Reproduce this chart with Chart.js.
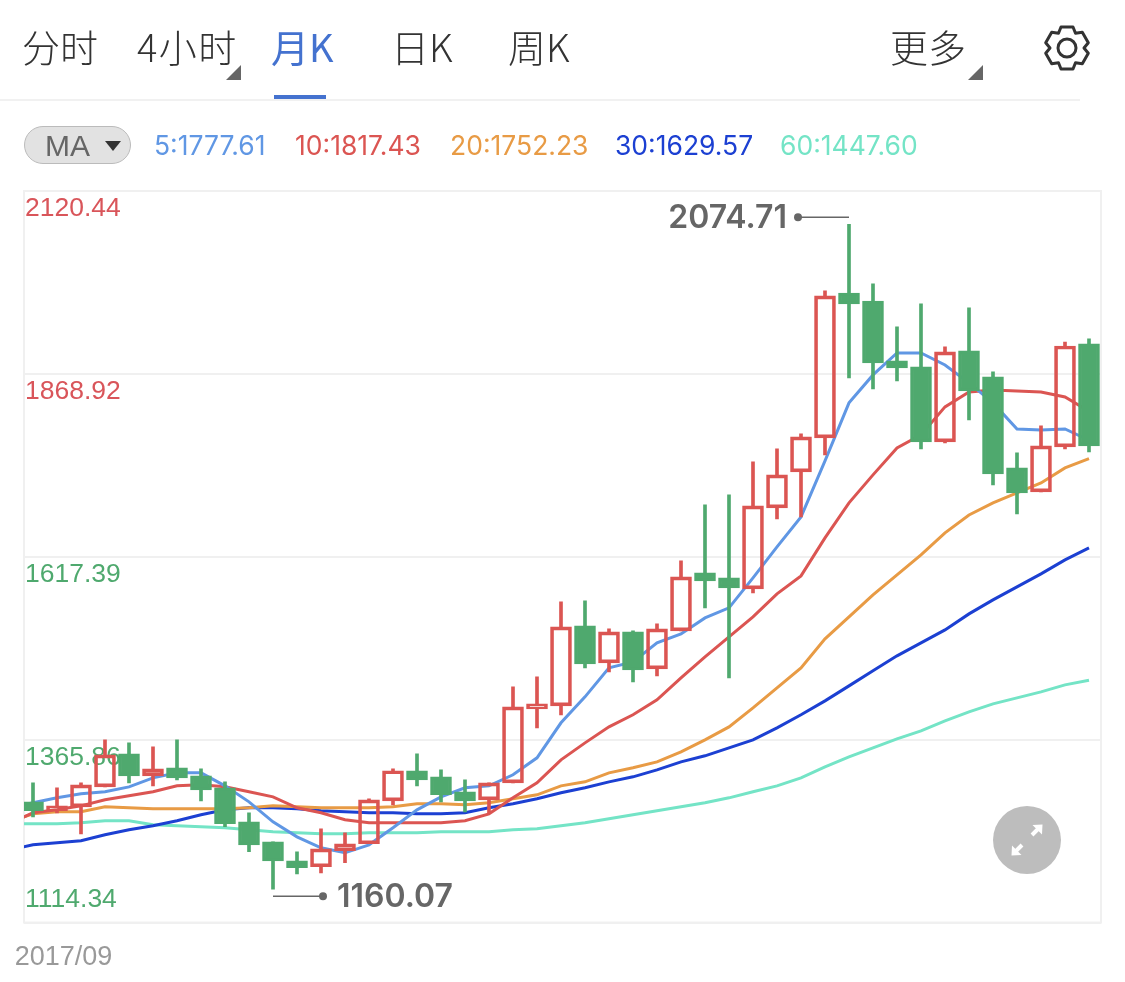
<!DOCTYPE html>
<html>
<head>
<meta charset="utf-8">
<title>月K</title>
<script src="https://cdn.jsdelivr.net/npm/chart.js@4/dist/chart.umd.min.js"></script>
<style>
html, body { margin: 0; padding: 0; background: #fff; }
#page { position: relative; width: 1125px; height: 982px; overflow: hidden; font-family: "Inter", sans-serif; }
#page canvas { position: absolute; left: 0; top: 0; }
.tab { position: absolute; top: 20px; font: 300 38px/52px "Noto Sans CJK SC", sans-serif; color: #333; white-space: nowrap; }
.tab.on { color: #4472CF; font-weight: 400; }
.corner { position: absolute; width: 0; height: 0; border-left: 15px solid transparent; border-bottom: 15px solid #666; }
#underline { position: absolute; left: 274px; top: 95px; width: 52px; height: 4px; background: #4472CF; }
#divider { position: absolute; left: 0; top: 99px; width: 1080px; height: 2px; background: #f1f1f1; }
#pill { position: absolute; left: 24px; top: 126px; width: 105px; height: 36px; border: 1px solid #bbb; border-radius: 19px; background: #e2e2e2; color: #666; font-family: "Liberation Sans", sans-serif; font-size: 30px; line-height: 38px; text-indent: 20px; }
#pill i { position: absolute; left: 80px; top: 14px; width: 0; height: 0; border-left: 8px solid transparent; border-right: 8px solid transparent; border-top: 10px solid #333; }
.ma { position: absolute; top: 130px; font-size: 26.5px; line-height: 30px; white-space: nowrap; }
#gear { position: absolute; left: 1040px; top: 21px; }
#expand { position: absolute; left: 993px; top: 806px; }
</style>
</head>
<body>
<div id="page">
  <canvas id="theChart" width="1125" height="982"></canvas>
  <div class="tab" style="left:22px">分时</div>
  <div class="tab" style="left:137px;letter-spacing:1.5px">4小时</div>
  <div class="corner" style="left:226px;top:65px"></div>
  <div class="tab on" style="left:271px">月K</div>
  <div class="tab" style="left:391px">日K</div>
  <div class="tab" style="left:508px">周K</div>
  <div class="tab" style="left:890px">更多</div>
  <div class="corner" style="left:968px;top:65px"></div>
  <div id="underline"></div>
  <div id="divider"></div>
  <div id="pill">MA<i></i></div>
  <div id="maLegend"></div>
  <svg id="gear" width="54" height="54" viewBox="-27 -27 54 54" fill="none" stroke="#333" stroke-width="3" stroke-linejoin="round">
    <circle r="9"></circle>
    <path d="M-6 -21 L6 -21 L8.5 -14.7 L15.3 -15.8 L21.3 -5.3 L17 0 L21.3 5.3 L15.3 15.8 L8.5 14.7 L6 21 L-6 21 L-8.5 14.7 L-15.3 15.8 L-21.3 5.3 L-17 0 L-21.3 -5.3 L-15.3 -15.8 L-8.5 -14.7 Z"></path>
  </svg>
  <svg id="expand" width="68" height="68" viewBox="-34 -34 68 68">
    <circle r="34" fill="#bdbdbd"></circle>
    <path d="M5 -5 L11 -11 M-5 5 L-11 11" stroke="#fff" stroke-width="4" fill="none"></path>
    <path d="M15.5 -15.5 L5.5 -15 L15 -5.5 Z M-15.5 15.5 L-5.5 15 L-15 5.5 Z" fill="#fff"></path>
  </svg>
</div>
<script>
// first month on the left, one candle per month
var firstMonth = "2017/09";

var opens = [1280.3, 1268.0, 1273.4, 1300.9, 1346.3, 1316.1, 1327.1, 1316.1, 1299.6, 1252.8, 1225.3, 1199.2, 1191.0, 1213.0, 1222.6,
  1281.7, 1323.0, 1314.7, 1294.1, 1283.1, 1306.4, 1408.2, 1412.3, 1522.3, 1471.5, 1514.1, 1463.2, 1515.5, 1595.2, 1588.3,
  1573.2, 1684.6, 1734.1, 1780.8, 1980.2, 1969.2, 1886.7, 1878.5, 1775.3, 1900.5, 1864.7, 1739.6, 1706.6, 1768.5, 1910.1];
var closes = [1268.0, 1274.8, 1303.7, 1344.9, 1316.1, 1325.7, 1313.3, 1296.8, 1250.1, 1221.2, 1199.2, 1189.6, 1215.7, 1222.6, 1283.1,
  1323.0, 1310.6, 1290.0, 1281.7, 1306.4, 1411.0, 1415.1, 1521.0, 1470.1, 1514.1, 1461.8, 1518.2, 1589.7, 1584.2, 1574.6,
  1687.3, 1730.0, 1782.2, 1976.1, 1965.1, 1884.0, 1877.1, 1775.3, 1899.1, 1845.5, 1731.3, 1705.2, 1769.8, 1907.3, 1769.8];
var highs = [1306.4, 1299.6, 1306.4, 1365.6, 1361.4, 1355.9, 1365.6, 1325.7, 1307.8, 1265.2, 1225.3, 1211.6, 1243.2, 1237.7, 1284.5,
  1325.7, 1346.3, 1324.3, 1310.6, 1306.4, 1438.5, 1452.2, 1555.3, 1556.7, 1518.2, 1515.5, 1525.1, 1611.7, 1688.7, 1702.5,
  1747.8, 1765.7, 1786.3, 1983.0, 2074.71, 1992.6, 1933.5, 1965.1, 1906.0, 1959.6, 1871.6, 1760.2, 1797.3, 1912.8, 1917.0];
var lows = [1259.7, 1265.2, 1236.3, 1300.9, 1306.4, 1302.3, 1310.6, 1281.7, 1246.0, 1211.6, 1160.07, 1181.3, 1182.7, 1196.5, 1222.6,
  1276.2, 1302.3, 1280.3, 1266.6, 1265.2, 1306.4, 1382.1, 1400.0, 1464.6, 1459.1, 1445.3, 1453.6, 1515.5, 1547.1, 1450.8,
  1567.7, 1669.5, 1672.2, 1757.5, 1863.3, 1848.2, 1859.2, 1765.7, 1774.0, 1805.6, 1716.2, 1676.3, 1706.6, 1765.7, 1761.6];

// moving averages, first value is the month before the left edge
var ma5 = [1272.1, 1279.0, 1285.8, 1291.3, 1294.1, 1300.9, 1313.3, 1320.2, 1320.2, 1302.3, 1280.3, 1252.8, 1232.2, 1217.1, 1210.2, 1221.2,
  1244.6, 1269.3, 1287.2, 1299.6, 1302.3, 1317.5, 1340.8, 1389.0, 1424.7, 1464.6, 1472.8, 1499.0, 1511.3, 1533.3, 1547.1,
  1588.3, 1631.0, 1672.2, 1749.2, 1829.0, 1867.5, 1897.7, 1897.7, 1881.2, 1856.5, 1829.0, 1793.2, 1791.8, 1793.2, 1777.61];
var ma10 = [1250.1, 1265.2, 1269.3, 1274.8, 1283.1, 1288.6, 1294.1, 1302.3, 1303.7, 1300.9, 1294.1, 1287.2, 1272.1, 1265.2, 1255.6, 1251.4,
  1251.4, 1251.4, 1251.4, 1254.2, 1263.8, 1285.8, 1306.4, 1338.1, 1361.4, 1383.4, 1400.0, 1420.6, 1450.8, 1479.7, 1507.2,
  1534.7, 1566.3, 1591.1, 1643.3, 1691.5, 1730.0, 1767.1, 1785.0, 1823.5, 1844.1, 1846.8, 1845.5, 1844.1, 1837.2, 1817.43];
var ma20 = [1252.8, 1263.8, 1266.6, 1266.6, 1273.4, 1272.1, 1270.7, 1270.7, 1270.7, 1270.7, 1272.1, 1274.8, 1273.4, 1272.1, 1272.1, 1272.1,
  1273.4, 1277.6, 1277.6, 1276.2, 1279.0, 1284.5, 1290.0, 1302.3, 1307.8, 1320.2, 1327.1, 1335.3, 1349.1, 1365.6, 1383.4,
  1409.6, 1437.1, 1464.6, 1504.4, 1534.7, 1564.9, 1592.4, 1620.0, 1650.2, 1674.9, 1691.5, 1705.2, 1718.9, 1739.6, 1752.23];
var ma30 = [1214.3, 1221.2, 1224.0, 1226.7, 1235.0, 1241.8, 1247.3, 1254.2, 1262.5, 1269.3, 1272.1, 1272.1, 1270.7, 1268.0, 1266.6, 1265.2,
  1265.2, 1263.8, 1263.8, 1265.2, 1272.1, 1277.6, 1284.5, 1292.7, 1299.6, 1307.8, 1314.7, 1324.3, 1335.3, 1343.6, 1354.6,
  1365.6, 1382.1, 1400.0, 1419.2, 1439.8, 1460.5, 1481.1, 1499.0, 1516.8, 1538.8, 1558.1, 1576.0, 1593.8, 1613.1, 1629.57];
var ma60 = [1250.1, 1250.1, 1250.1, 1251.4, 1254.2, 1254.2, 1248.7, 1247.3, 1246.0, 1244.6, 1241.8, 1239.1, 1237.7, 1236.3, 1236.3, 1237.7,
  1237.7, 1237.7, 1239.1, 1239.1, 1239.1, 1241.8, 1243.2, 1247.3, 1251.4, 1257.0, 1262.5, 1268.0, 1273.4, 1279.0, 1285.8,
  1294.1, 1302.3, 1313.3, 1328.5, 1342.2, 1354.6, 1367.0, 1378.0, 1391.7, 1404.1, 1415.1, 1423.3, 1431.6, 1441.2, 1447.60];

var maNames = ["5", "10", "20", "30", "60"];
var maColors = ["#6097E4", "#DB5552", "#E89B45", "#1C40D2", "#74E4C6"];
var maLeft = [154, 295, 450, 615, 780];

var yTicks = [2120.44, 1868.92, 1617.39, 1365.86, 1114.34];
var yTickColors = ["#D9555A", "#D9555A", "#4FA96E", "#4FA96E", "#4FA96E"];
var yTickShift = [18, 18, 18, 18, -23];

var RED = "#DB5552";
var GREEN = "#4FA96E";

var maSeries = [ma5, ma10, ma20, ma30, ma60];

// legend row up top, last value of each average
var legendBox = document.getElementById("maLegend");
maNames.forEach(function(name, k){
    var el = document.createElement("div");
    el.className = "ma";
    el.style.left = maLeft[k] + "px";
    el.style.color = maColors[k];
    var last = maSeries[k][maSeries[k].length - 1];
    el.textContent = name + ":" + last.toFixed(2);
    legendBox.appendChild(el);
});

function isUp(i){ return closes[i] >= opens[i]; }
function candleColors(){ return opens.map(function(o, i){ return isUp(i) ? RED : GREEN; }); }

var datasets = [];

maSeries.forEach(function(values, k){
    datasets.push({
        type: "line",
        label: "MA" + maNames[k],
        data: values.map(function(v, i){ return { x: i - 1, y: v }; }),
        borderColor: maColors[k],
        borderWidth: 3,
        pointRadius: 0,
        tension: 0,
        order: 5
    });
});

// upper and lower wicks apart, the red bodies are hollow
datasets.push({
    type: "bar",
    label: "wick up",
    data: opens.map(function(o, i){ return { x: i, y: [Math.max(o, closes[i]), highs[i]] }; }),
    backgroundColor: candleColors(),
    barThickness: 3,
    grouped: false,
    order: 2
});
datasets.push({
    type: "bar",
    label: "wick down",
    data: opens.map(function(o, i){ return { x: i, y: [lows[i], Math.min(o, closes[i])] }; }),
    backgroundColor: candleColors(),
    barThickness: 3,
    grouped: false,
    order: 2
});
datasets.push({
    type: "bar",
    label: "body",
    data: opens.map(function(o, i){ return { x: i, y: [o, closes[i]] }; }),
    backgroundColor: opens.map(function(o, i){ return isUp(i) ? "rgba(255,255,255,0)" : GREEN; }),
    borderColor: candleColors(),
    borderWidth: 3,
    borderSkipped: false,
    barThickness: 21,
    grouped: false,
    order: 1
});

// y labels sit inside the plot, under the candles
var insideLabels = {
    id: "insideLabels",
    beforeDatasetsDraw: function(chart){
        var c = chart.ctx, s = chart.scales.y;
        c.save();
        c.font = "26.5px 'Liberation Sans'";
        c.textBaseline = "middle";
        c.textAlign = "left";
        yTicks.forEach(function(v, k){
            c.fillStyle = yTickColors[k];
            c.fillText(v.toFixed(2), 25, s.getPixelForValue(v) + yTickShift[k]);
        });
        c.restore();
    },
    beforeDraw: function(chart){
        var c = chart.ctx, a = chart.chartArea;
        c.save();
        c.strokeStyle = "#f0f0f0";
        c.lineWidth = 2;
        c.strokeRect(a.left, a.top, a.right - a.left, a.bottom - a.top);
        c.restore();
    },
    afterDatasetsDraw: function(chart){
        var c = chart.ctx, xs = chart.scales.x, ys = chart.scales.y;
        var hi = Math.max.apply(null, highs), lo = Math.min.apply(null, lows);
        var hx = xs.getPixelForValue(highs.indexOf(hi)), hy = ys.getPixelForValue(hi) - 7;
        var lx = xs.getPixelForValue(lows.indexOf(lo)), ly = ys.getPixelForValue(lo) + 7;
        c.save();
        c.strokeStyle = "#666";
        c.fillStyle = "#666";
        c.lineWidth = 1.5;
        c.font = "600 32px Inter";
        c.textBaseline = "middle";
        // high marker goes left of the candle
        c.beginPath(); c.moveTo(hx, hy); c.lineTo(hx - 51, hy); c.stroke();
        c.beginPath(); c.arc(hx - 51, hy, 4, 0, Math.PI * 2); c.fill();
        c.textAlign = "right";
        c.fillText(hi.toFixed(2), hx - 62, hy + 1);
        // low marker goes right
        c.beginPath(); c.moveTo(lx, ly); c.lineTo(lx + 50, ly); c.stroke();
        c.beginPath(); c.arc(lx + 50, ly, 4, 0, Math.PI * 2); c.fill();
        c.textAlign = "left";
        c.fillText(lo.toFixed(2), lx + 64, ly + 1);
        c.restore();
    }
};

var ctx = document.getElementById("theChart").getContext("2d");
var theChart = new Chart(ctx, {
    data: { datasets: datasets },
    plugins: [insideLabels],
    options: {
        responsive: false,
        animation: false,
        events: [],
        layout: { padding: { left: 24, right: 24, top: 191, bottom: 0 } },
        plugins: { legend: { display: false }, tooltip: { enabled: false } },
        scales: {
            x: {
                type: "linear",
                offset: false,
                min: -0.375,
                max: 44.5,
                grid: { display: false },
                border: { display: false },
                afterBuildTicks: function(s){ s.ticks = [{ value: 1.27 }]; },
                afterFit: function(s){ s.height = 59.5; },
                ticks: {
                    autoSkip: false,
                    maxRotation: 0,
                    padding: 11,
                    color: "#999",
                    font: { family: "'Liberation Sans'", size: 27 },
                    callback: function(){ return firstMonth; }
                }
            },
            y: {
                min: 1114.34,
                max: 2120.44,
                border: { display: false },
                afterBuildTicks: function(s){ s.ticks = yTicks.map(function(v){ return { value: v }; }); },
                afterFit: function(s){ s.width = 0; },
                grid: { color: "#f0f0f0", lineWidth: 2, drawTicks: false },
                ticks: { display: false }
            }
        }
    }
});
</script>
</body>
</html>
